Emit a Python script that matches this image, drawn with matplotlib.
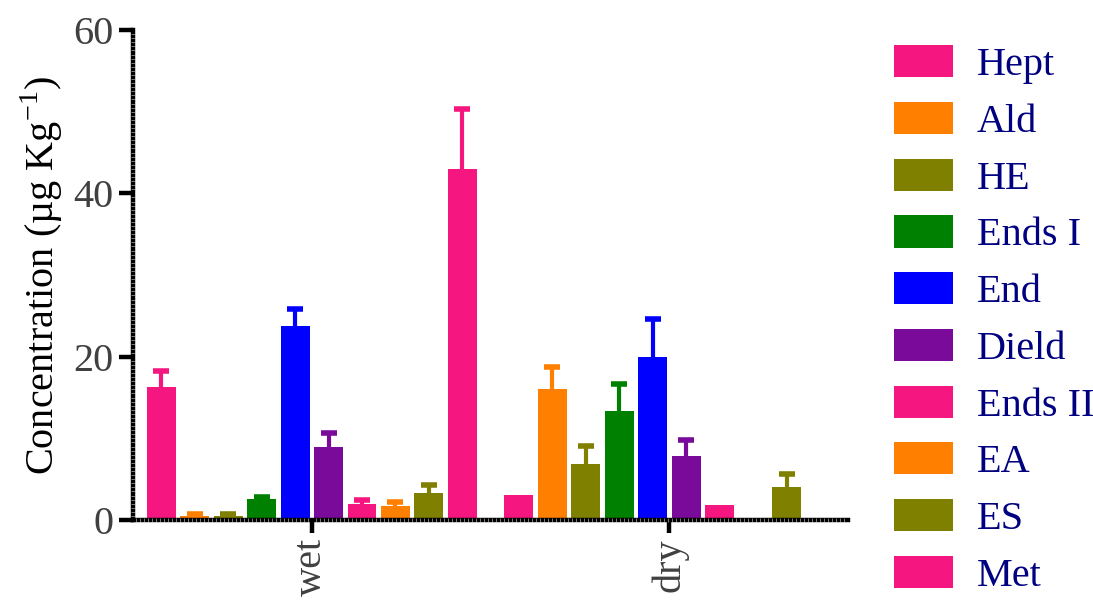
import numpy as np
import matplotlib
matplotlib.use("Agg")
import matplotlib.pyplot as plt
from matplotlib.ticker import MultipleLocator

plt.rcParams['font.family'] = ['Liberation Serif', 'DejaVu Serif']
plt.rcParams['mathtext.fontset'] = 'custom'
plt.rcParams['mathtext.rm'] = 'Liberation Serif'

seasons = ["wet", "dry"]
compounds = ["Hept", "Ald", "HE", "Ends I", "End", "Dield", "Ends II", "EA", "ES", "Met"]

# mean concentration for each compound, per season
wet_mean = [16.3, 0.5, 0.5, 2.6, 23.8, 8.9, 2.0, 1.7, 3.3, 43.0]
dry_mean = [3.1, 16.0, 6.9, 13.4, 20.0, 7.9, 1.9, 0.0, 4.0, 0.0]
# SD
wet_err = [1.9, 0.2, 0.2, 0.2, 2.0, 1.8, 0.4, 0.5, 1.0, 7.3]
dry_err = [0.0, 2.7, 2.2, 3.2, 4.6, 1.9, 0.0, 0.0, 1.6, 0.0]

colors = ['#F5177F', '#FF8000', '#808000', '#008000', '#0000FF',
          '#7A0A9A', '#F5177F', '#FF8000', '#808000', '#F5177F']

means = np.array([wet_mean, dry_mean])
errs = np.array([wet_err, dry_err])

fig = plt.figure(figsize=(10.93, 6), dpi=100)
ax = fig.add_axes([0.1217, 0.1333, 0.6543, 0.8167])

x = np.arange(len(seasons))
step = 0.0936
width = 0.081
n = len(compounds)
for i in range(n):
    pos = x + (i - (n - 1) / 2) * step
    ax.bar(pos, means[:, i], width, color=colors[i], linewidth=0,
           label=compounds[i], zorder=2)
    # only draw error bars that exist; lower half sits behind the bar
    has = errs[:, i] > 0
    if has.any():
        ax.errorbar(pos[has], means[has, i], yerr=errs[has, i], fmt='none',
                    ecolor=colors[i], elinewidth=3, capsize=6, capthick=4, zorder=1)

ax.set_xlim(-0.5, 1.5)
ax.set_ylim(0, 60)
ax.set_yticks([0, 20, 40, 60])
ax.set_xticks(x)
ax.set_xticklabels(seasons, rotation=90)

for side in ['top', 'right']:
    ax.spines[side].set_visible(False)
for side in ['left', 'bottom']:
    ax.spines[side].set_linewidth(3.2)

ax.tick_params(axis='both', which='major', direction='out', length=10, width=3.2,
               colors='black', labelcolor='#404040', labelsize=29, pad=4)
ax.tick_params(axis='x', which='major', length=9)

# fine notches along the axis lines
ax.set_axisbelow(False)
ax.yaxis.set_minor_locator(MultipleLocator(0.5))
ax.xaxis.set_minor_locator(MultipleLocator(0.0112))
ax.tick_params(which='minor', direction='inout', length=3.2, width=0.4, color='#d8d8d8')

ax.set_ylabel('Concentration (µg Kg$^{\\mathregular{-1}}$)', fontsize=29, color='black', labelpad=6)

leg = ax.legend(loc='upper left', bbox_to_anchor=(0.785, 0.985), bbox_transform=fig.transFigure,
                frameon=False, fontsize=29, handlelength=1.45, handleheight=0.85,
                labelspacing=0.44, handletextpad=0.6)
for t in leg.get_texts():
    t.set_color('#000080')

fig.savefig('out.png', dpi=100)
